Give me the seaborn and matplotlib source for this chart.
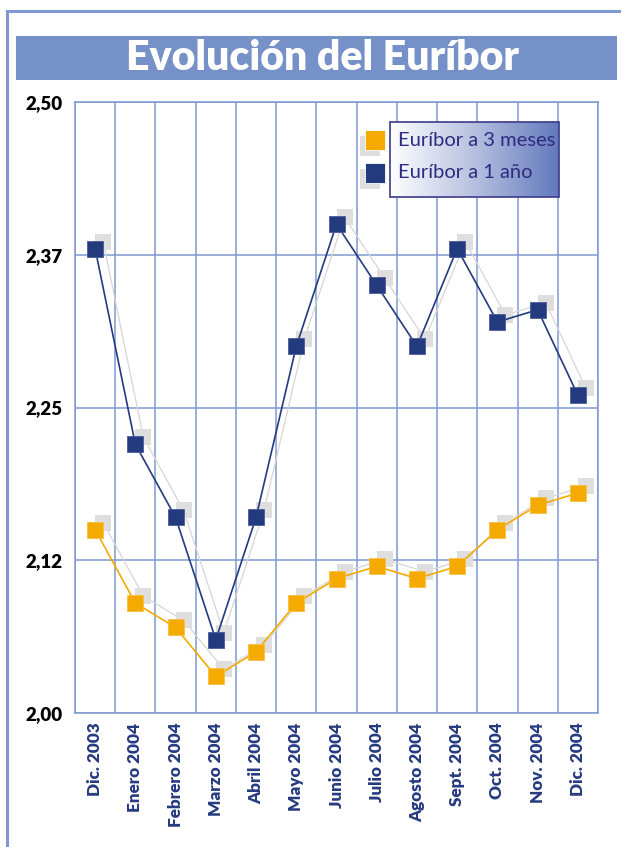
import matplotlib
matplotlib.use("Agg")
import matplotlib.pyplot as plt
import matplotlib.transforms as mtransforms
from matplotlib.colors import LinearSegmentedColormap
from matplotlib.patches import Rectangle
import numpy as np
import pandas as pd
import seaborn as sns

# Datos
meses = ["Dic. 2003", "Enero 2004", "Febrero 2004", "Marzo 2004", "Abril 2004",
         "Mayo 2004", "Junio 2004", "Julio 2004", "Agosto 2004", "Sept. 2004",
         "Oct. 2004", "Nov. 2004", "Dic. 2004"]
euribor_3m = [2.15, 2.09, 2.07, 2.03, 2.05, 2.09, 2.11, 2.12, 2.11, 2.12, 2.15, 2.17, 2.18]
euribor_1a = [2.38, 2.22, 2.16, 2.06, 2.16, 2.30, 2.40, 2.35, 2.30, 2.38, 2.32, 2.33, 2.26]
y_ticks = [2.0, 2.125, 2.25, 2.375, 2.5]
y_labels = ["2,00", "2,12", "2,25", "2,37", "2,50"]
series_names = ["Euríbor a 3 meses", "Euríbor a 1 año"]

naranja = "#F4AA00"
azul = "#233A7E"
rejilla = "#7F98D0"
sombra = "#DEDEDE"

df = pd.DataFrame({"mes": meses, "3m": euribor_3m, "1a": euribor_1a})

sns.set_style("white")
plt.rcParams["font.family"] = ["Lato", "DejaVu Sans"]

fig = plt.figure(figsize=(6.21, 8.47), dpi=100)
W, H = 621, 847
ax = fig.add_axes([75 / W, (H - 713) / H, 523 / W, 611 / H])

# sombras desplazadas
shadow_tr = mtransforms.offset_copy(ax.transData, fig=fig, x=8, y=7, units="dots")
for col in ["3m", "1a"]:
    sns.lineplot(data=df, x="mes", y=col, ax=ax, color="#D6D6D6", linewidth=0.9,
                 marker="s", markersize=11, markeredgewidth=0,
                 markerfacecolor=sombra, transform=shadow_tr, zorder=2)

sns.lineplot(data=df, x="mes", y="3m", ax=ax, color=naranja, linewidth=1.2,
             marker="s", markersize=11, markeredgewidth=0.6,
             markeredgecolor="#F7C040", zorder=3)
sns.lineplot(data=df, x="mes", y="1a", ax=ax, color=azul, linewidth=1.2,
             marker="s", markersize=11, markeredgewidth=0.6,
             markeredgecolor="#4A5C99", zorder=4)

ax.set_xlim(-0.5, len(meses) - 0.5)
ax.set_ylim(2.0, 2.5)
ax.set_xticks(range(len(meses)))
ax.set_xticklabels(meses, rotation=90, fontsize=12.3, fontweight="heavy", color="#263A80")
ax.set_xticks(np.arange(-0.5, len(meses), 1), minor=True)
ax.set_yticks(y_ticks)
ax.set_yticklabels(y_labels, fontsize=13.5, fontweight="heavy", color="black")
ax.tick_params(axis="both", which="both", length=0)
ax.tick_params(axis="x", pad=7)
ax.tick_params(axis="y", pad=9)
ax.grid(axis="x", which="minor", color=rejilla, linewidth=1.1)
ax.grid(axis="y", which="major", color=rejilla, linewidth=1.1)
ax.set_axisbelow(True)
for s in ax.spines.values():
    s.set_color(rejilla)
    s.set_linewidth(1.1)
ax.set_xlabel("")
ax.set_ylabel("")

# capa de decoracion en coordenadas de pixel
deco = fig.add_axes([0, 0, 1, 1], zorder=10)
deco.set_xlim(0, W)
deco.set_ylim(H, 0)
deco.axis("off")
deco.patch.set_alpha(0)

# marco exterior
deco.plot([7, 7, W], [H, 11, 11], color=rejilla, linewidth=2.2, solid_joinstyle="miter")

# barra de titulo
deco.add_patch(Rectangle((16, 36), 601, 44, facecolor="#7690C8", edgecolor="none"))
deco.text(323, 58, "Evolución del Euríbor", color="white", fontsize=29.5,
          fontweight="heavy", ha="center", va="center")

# leyenda con degradado
cmap = LinearSegmentedColormap.from_list("leg", ["#FFFFFF", "#B5C0E0", "#6379BD"])
grad = np.linspace(0, 1, 256).reshape(1, -1)
deco.imshow(grad, cmap=cmap, extent=(390, 559, 197, 122), aspect="auto", zorder=1)
deco.add_patch(Rectangle((390, 122), 169, 75, facecolor="none",
                         edgecolor="#3A3A8A", linewidth=1.2, zorder=2))
for i, (name, c) in enumerate(zip(series_names, [naranja, azul])):
    yy = 140 + i * 33
    deco.plot([370], [yy + 6], marker="s", markersize=14.5, color=sombra,
              markeredgewidth=0, zorder=3)
    deco.plot([375], [yy], marker="s", markersize=14.5, color=c,
              markeredgewidth=0.6, markeredgecolor="white", zorder=4)
    deco.text(398, yy, name, color="#2E2C7E", fontsize=14.5, ha="left",
              va="center", zorder=5)

fig.savefig("out.png", dpi=100)
